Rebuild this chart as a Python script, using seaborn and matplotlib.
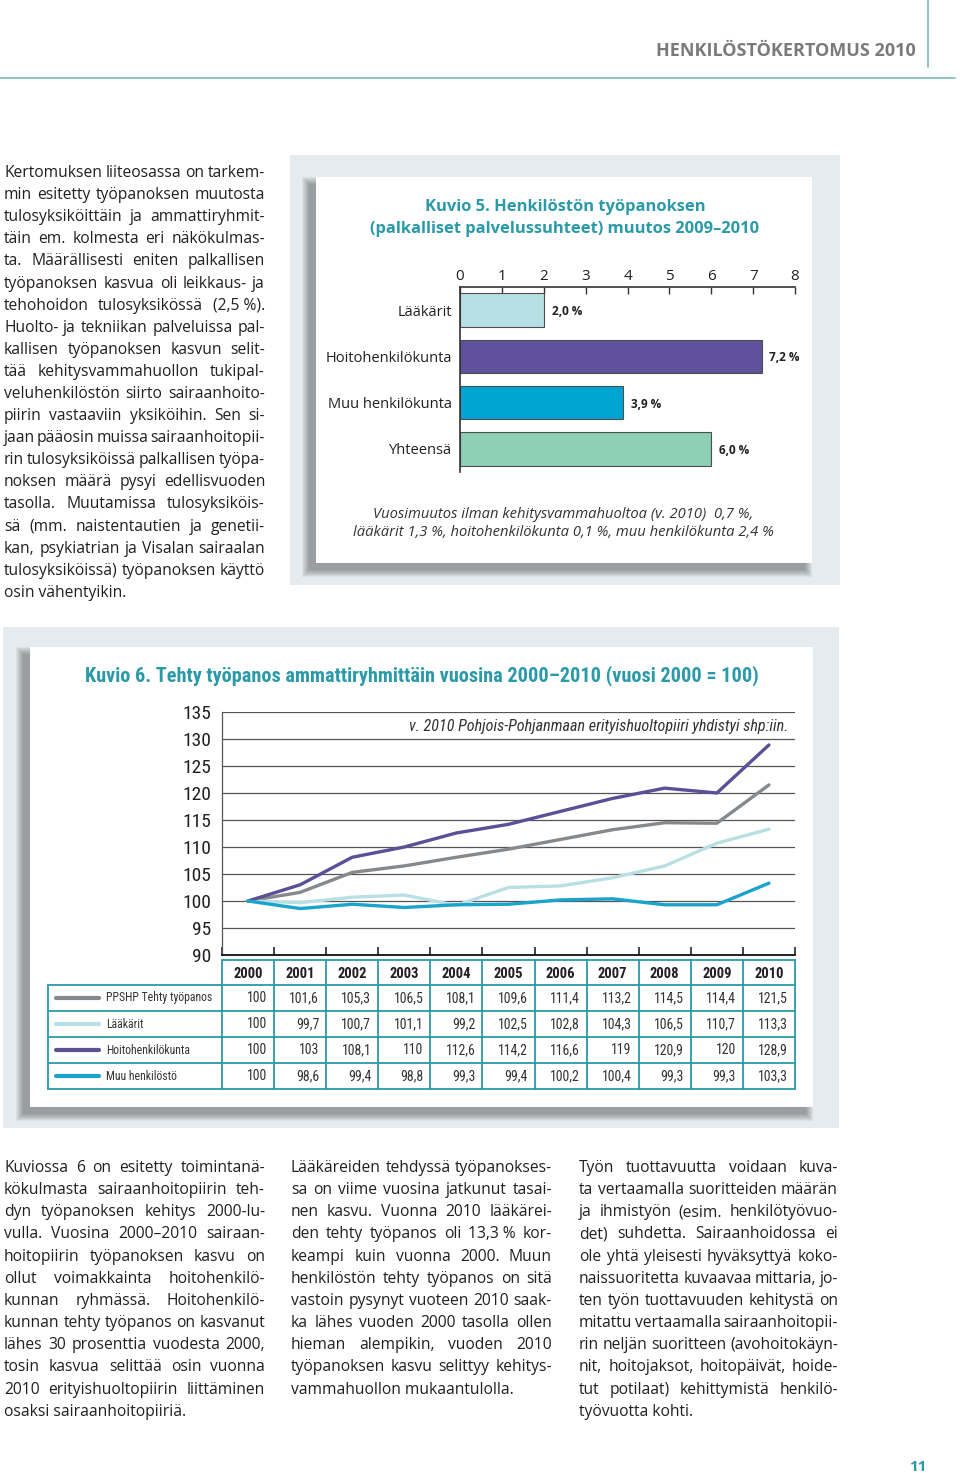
import numpy as np
import pandas as pd
import seaborn as sns
import matplotlib.pyplot as plt
from matplotlib import font_manager
from matplotlib.patches import Rectangle

W, H = 960, 1473

# Kuvio 5 data
cats5 = ['Lääkärit', 'Hoitohenkilökunta', 'Muu henkilökunta', 'Yhteensä']
vals5 = [2.0, 7.2, 3.9, 6.0]
cols5 = ['#b7e0e4', '#5f519b', '#00a4d3', '#8dd0b6']

# Kuvio 6 data (vuosi 2000 = 100)
years = list(range(2000, 2011))
series6 = ['PPSHP Tehty työpanos', 'Lääkärit', 'Hoitohenkilökunta', 'Muu henkilöstö']
ppshp = [100, 101.6, 105.3, 106.5, 108.1, 109.6, 111.4, 113.2, 114.5, 114.4, 121.5]
laakarit = [100, 99.7, 100.7, 101.1, 99.2, 102.5, 102.8, 104.3, 106.5, 110.7, 113.3]
hoito = [100, 103, 108.1, 110, 112.6, 114.2, 116.6, 119, 120.9, 120, 128.9]
muu = [100, 98.6, 99.4, 98.8, 99.3, 99.4, 100.2, 100.4, 99.3, 99.3, 103.3]
cols6 = ['#85898c', '#b8e0e4', '#5c4f96', '#1aa3cc']

left_text = [
    "Kertomuksen liiteosassa on tarkem-",
    "min esitetty työpanoksen muutosta",
    "tulosyksiköittäin ja ammattiryhmit-",
    "täin em. kolmesta eri näkökulmas-",
    "ta. Määrällisesti eniten palkallisen",
    "työpanoksen kasvua oli leikkaus- ja",
    "tehohoidon tulosyksikössä (2,5\u00a0%).",
    "Huolto- ja tekniikan palveluissa pal-",
    "kallisen työpanoksen kasvun selit-",
    "tää kehitysvammahuollon tukipal-",
    "veluhenkilöstön siirto sairaanhoito-",
    "piirin vastaaviin yksiköihin. Sen si-",
    "jaan pääosin muissa sairaanhoitopii-",
    "rin tulosyksiköissä palkallisen työpa-",
    "noksen määrä pysyi edellisvuoden",
    "tasolla. Muutamissa tulosyksiköis-",
    "sä (mm. naistentautien ja genetii-",
    "kan, psykiatrian ja Visalan sairaalan",
    "tulosyksiköissä) työpanoksen käyttö",
    "osin vähentyikin.",
]
col1_text = [
    "Kuviossa 6 on esitetty toimintanä-",
    "kökulmasta sairaanhoitopiirin teh-",
    "dyn työpanoksen kehitys 2000-lu-",
    "vulla. Vuosina 2000–2010 sairaan-",
    "hoitopiirin työpanoksen kasvu on",
    "ollut voimakkainta hoitohenkilö-",
    "kunnan ryhmässä. Hoitohenkilö-",
    "kunnan tehty työpanos on kasvanut",
    "lähes 30 prosenttia vuodesta 2000,",
    "tosin kasvua selittää osin vuonna",
    "2010 erityishuoltopiirin liittäminen",
    "osaksi sairaanhoitopiiriä.",
]
col2_text = [
    "Lääkäreiden tehdyssä työpanokses-",
    "sa on viime vuosina jatkunut tasai-",
    "nen kasvu. Vuonna 2010 lääkärei-",
    "den tehty työpanos oli 13,3\u00a0% kor-",
    "keampi kuin vuonna 2000. Muun",
    "henkilöstön tehty työpanos on sitä",
    "vastoin pysynyt vuoteen 2010 saak-",
    "ka lähes vuoden 2000 tasolla ollen",
    "hieman alempikin, vuoden 2010",
    "työpanoksen kasvu selittyy kehitys-",
    "vammahuollon mukaantulolla.",
]
col3_text = [
    "Työn tuottavuutta voidaan kuva-",
    "ta vertaamalla suoritteiden määrän",
    "ja ihmistyön (esim. henkilötyövuo-",
    "det) suhdetta. Sairaanhoidossa ei",
    "ole yhtä yleisesti hyväksyttyä koko-",
    "naissuoritetta kuvaavaa mittaria, jo-",
    "ten työn tuottavuuden kehitystä on",
    "mitattu vertaamalla sairaanhoitopii-",
    "rin neljän suoritteen (avohoitokäyn-",
    "nit, hoitojaksot, hoitopäivät, hoide-",
    "tut potilaat) kehittymistä henkilö-",
    "työvuotta kohti.",
]

TEAL = '#2a9aa8'
TXT = '#231f20'

sns.set_theme(style='white')
names = {f.name for f in font_manager.fontManager.ttflist}
BODY = 'Open Sans' if 'Open Sans' in names else 'DejaVu Sans'
COND = next((n for n in ['Liberation Sans Narrow', 'Roboto Condensed', 'Open Sans Condensed']
             if n in names), 'DejaVu Sans')
plt.rcParams['font.family'] = [BODY, 'DejaVu Sans']

fig = plt.figure(figsize=(9.6, 14.73), dpi=100)
page = fig.add_axes([0, 0, 1, 1])
page.set_xlim(0, W)
page.set_ylim(H, 0)
page.axis('off')
rend = fig.canvas.get_renderer()


def px_box(x0, y0, x1, y1):
    return [x0 / W, 1 - y1 / H, (x1 - x0) / W, (y1 - y0) / H]


def measure(s, **kw):
    t = page.text(0, 0, s, **kw)
    w = t.get_window_extent(rend).width
    t.remove()
    return w


def fit(s, width, **kw):
    return 10 * width / measure(s, fontsize=10, **kw)


def column(lines, x0, x1, y0, step, size):
    for i, ln in enumerate(lines):
        y = y0 + i * step
        words = ln.split(' ')
        if i == len(lines) - 1 or len(words) == 1:
            page.text(x0, y, ln, fontsize=size, va='baseline', color=TXT)
            continue
        ws = [measure(w, fontsize=size) for w in words]
        gap = (x1 - x0 - sum(ws)) / (len(words) - 1)
        x = x0
        for w, wd in zip(words, ws):
            page.text(x, y, w, fontsize=size, va='baseline', color=TXT)
            x += wd + gap


def card(x0, y0, x1, y1):
    for k in range(7, -1, -1):
        page.add_patch(Rectangle((x0 - 7 - k, y0 + 7 - k), x1 - x0 + 2 * k, y1 - y0 + 2 * k,
                                 color='#2a2a2a', alpha=0.06, lw=0))
    page.add_patch(Rectangle((x0, y0), x1 - x0, y1 - y0, color='white', lw=0))


# header
page.plot([0, 955], [78, 78], color='#7db9bc', lw=1.2)
page.plot([928, 928], [0, 67], color='#7db9bc', lw=1.2)
hs = 'HENKILÖSTÖKERTOMUS 2010'
page.text(916, 51, hs, ha='right', va='center', fontweight='bold', color='#7a7a7a',
          fontsize=fit(hs, 260, fontweight='bold'))

# body text: size chosen so that the tightest justified line still fits with narrow spaces
sp10 = measure('a a', fontsize=10) - measure('aa', fontsize=10)
need = []
for ln in left_text + col1_text + col2_text + col3_text:
    ws = ln.split(' ')
    need.append(sum(measure(w, fontsize=10) for w in ws) + (len(ws) - 1) * sp10 * 0.55)
body_size = 10 * 261 / max(need)
column(left_text, 4, 265, 177, 22.1, body_size)
column(col1_text, 4, 265, 1172, 22.15, body_size)
column(col2_text, 291, 552, 1172, 22.15, body_size)
column(col3_text, 579, 838, 1172, 22.15, body_size)
page.text(918, 1467, '11', ha='center', va='center', fontweight='bold', color=TEAL, fontsize=11)

# panels
page.add_patch(Rectangle((290, 155), 550, 430, color='#e5ebee', lw=0))
card(316, 177, 812, 563)
page.add_patch(Rectangle((3, 627), 836, 501, color='#e5ebee', lw=0))
card(30, 647, 813, 1107)

# Kuvio 5 title and note
t5a = 'Kuvio 5. Henkilöstön työpanoksen'
t5b = '(palkalliset palvelussuhteet) muutos 2009–2010'
s5 = fit(t5b, 390, fontweight='bold')
page.text(565, 207, t5a, ha='center', va='center', fontweight='bold', color=TEAL, fontsize=s5)
page.text(565, 229, t5b, ha='center', va='center', fontweight='bold', color=TEAL, fontsize=s5)
n5a = 'Vuosimuutos ilman kehitysvammahuoltoa (v. 2010)  0,7 %,'
n5b = 'lääkärit 1,3 %, hoitohenkilökunta 0,1 %, muu henkilökunta 2,4 %'
sn = fit(n5b, 419, style='italic')
page.text(563, 515, n5a, ha='center', va='center', style='italic', color='#333333', fontsize=sn)
page.text(563, 533, n5b, ha='center', va='center', style='italic', color='#333333', fontsize=sn)

# Kuvio 5 bars
ax5 = fig.add_axes(px_box(460, 287, 795, 472))
sns.barplot(x=vals5, y=cats5, hue=cats5, palette=cols5, width=0.72, orient='h', saturation=1,
            edgecolor='#4d4d4d', linewidth=0.8, legend=False, ax=ax5)
ax5.set_xlim(0, 8)
ax5.set_ylim(3.5, -0.5)
ax5.set_facecolor('none')
ax5.set_xlabel('')
ax5.set_ylabel('')
ax5.xaxis.tick_top()
ax5.set_xticks(range(9))
ax5.tick_params(axis='x', direction='in', length=5, width=1, color='#333333',
                labelsize=11, pad=2, labelcolor=TXT, top=True, bottom=False)
ax5.tick_params(axis='y', length=0, labelsize=10.5, pad=6, labelcolor=TXT)
for side in ['bottom', 'right']:
    ax5.spines[side].set_visible(False)
for side in ['top', 'left']:
    ax5.spines[side].set_color('#333333')
    ax5.spines[side].set_linewidth(1.2)
for i, v in enumerate(vals5):
    ax5.text(v + 0.19, i + 0.03, f'{v:.1f} %'.replace('.', ','), va='center', ha='left',
             fontsize=8.5, fontweight='bold', color=TXT)

# Kuvio 6 title and note
t6 = 'Kuvio 6. Tehty työpanos ammattiryhmittäin vuosina 2000–2010 (vuosi 2000 = 100)'
page.text(85, 676, t6, ha='left', va='center', fontweight='bold', color=TEAL,
          family=COND, fontsize=fit(t6, 673, fontweight='bold', family=COND))
n6 = 'v. 2010 Pohjois-Pohjanmaan erityishuoltopiiri yhdistyi shp:iin.'
page.text(788, 727, n6, ha='right', va='center', style='italic', color='#333333',
          family=COND, fontsize=fit(n6, 380, style='italic', family=COND))

# Kuvio 6 lines
df6 = pd.DataFrame({'idx': list(range(len(years))) * 4,
                    'arvo': ppshp + laakarit + hoito + muu,
                    'sarja': [s for s in series6 for _ in years]})
ax6 = fig.add_axes(px_box(222, 712, 795, 955))
sns.lineplot(data=df6, x='idx', y='arvo', hue='sarja', hue_order=series6, palette=cols6,
             linewidth=2.4, legend=False, ax=ax6)
ax6.set_xlim(-0.5, 10.5)
ax6.set_ylim(90, 135)
ax6.set_facecolor('none')
ax6.set_axisbelow(True)
ax6.set_xlabel('')
ax6.set_ylabel('')
ax6.set_yticks(range(90, 136, 5))
ax6.set_xticks(np.arange(-0.5, 11, 1))
ax6.set_xticklabels([])
ax6.yaxis.grid(True, color='#555555', lw=0.9)
ax6.xaxis.grid(False)
ax6.tick_params(axis='x', direction='in', length=6, width=1.1, color='#111111', bottom=True)
ax6.tick_params(axis='y', length=0, labelsize=14, pad=8, labelcolor=TXT)
for lab in ax6.get_yticklabels():
    lab.set_family(COND)
for side in ['top', 'right']:
    ax6.spines[side].set_visible(False)
ax6.spines['bottom'].set_color('#111111')
ax6.spines['bottom'].set_linewidth(1.3)
ax6.spines['left'].set_color('#555555')
ax6.spines['left'].set_linewidth(0.9)

# Kuvio 6 table
TB = '#2b9aa6'
tx0, tx1 = 222, 795
cw = (tx1 - tx0) / len(years)
hy0, hy1, rh = 960, 985, 26
lx = 48
page.plot([tx0, tx1], [hy0, hy0], color=TB, lw=1.3)
for k in range(len(series6) + 1):
    page.plot([lx, tx1], [hy1 + k * rh] * 2, color=TB, lw=1.3)
for i in range(len(years) + 1):
    page.plot([tx0 + i * cw] * 2, [hy0, hy1 + len(series6) * rh], color=TB, lw=1.3)
page.plot([lx, lx], [hy1, hy1 + len(series6) * rh], color=TB, lw=1.3)
for i, yr in enumerate(years):
    page.text(tx0 + (i + 0.5) * cw, (hy0 + hy1) / 2 + 1, str(yr), ha='center', va='center',
              fontweight='bold', family=COND, fontsize=10.5, color=TXT)
lab_size = fit(series6[0], 106, family=COND)
for k, (name, vals, c) in enumerate(zip(series6, [ppshp, laakarit, hoito, muu], cols6)):
    yc = hy1 + (k + 0.5) * rh
    page.plot([56, 99], [yc, yc], color=c, lw=3, solid_capstyle='round')
    page.text(106, yc, name, ha='left', va='center', family=COND, fontsize=lab_size,
              color='#333333')
    for i, v in enumerate(vals):
        s = str(int(v)) if v == int(v) else f'{v:.1f}'.replace('.', ',')
        page.text(tx0 + (i + 1) * cw - 7, yc, s, ha='right', va='center', family=COND,
                  fontsize=10, color='#333333')

fig.savefig('out.png', dpi=100)
